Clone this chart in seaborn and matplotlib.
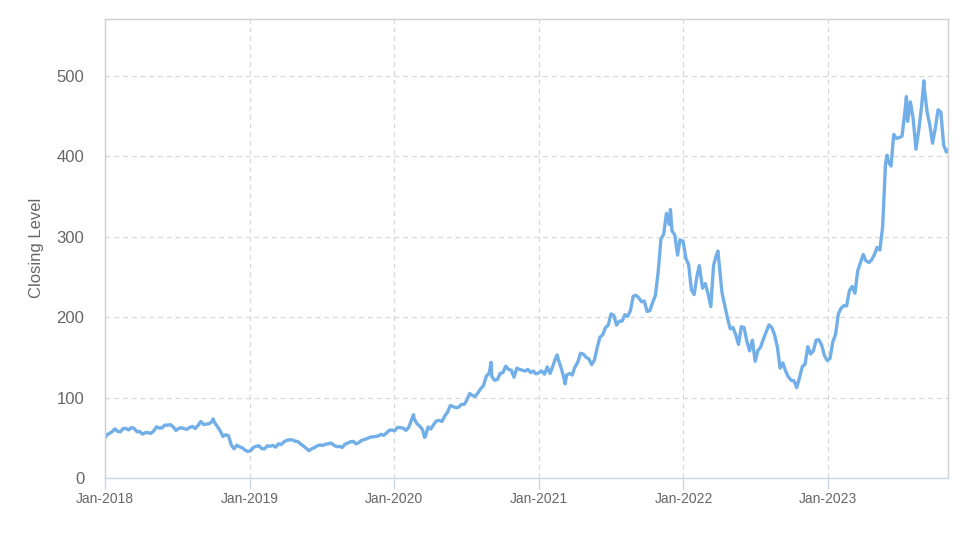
import matplotlib
matplotlib.use("Agg")
import matplotlib.pyplot as plt
import numpy as np
import pandas as pd
import seaborn as sns

# ---- data ----
dates_2018 = ["2018-01-02", "2018-01-05", "2018-01-12", "2018-01-19", "2018-01-26", "2018-02-02", "2018-02-09",
              "2018-02-16", "2018-02-23", "2018-03-02", "2018-03-09", "2018-03-16", "2018-03-23", "2018-03-29",
              "2018-04-06", "2018-04-13", "2018-04-20", "2018-04-27", "2018-05-04", "2018-05-11", "2018-05-18",
              "2018-05-25", "2018-06-01", "2018-06-08", "2018-06-15", "2018-06-22", "2018-06-29", "2018-07-06",
              "2018-07-13", "2018-07-20", "2018-07-27", "2018-08-03", "2018-08-10", "2018-08-17", "2018-08-24",
              "2018-08-31", "2018-09-07", "2018-09-14", "2018-09-21", "2018-09-28", "2018-10-01", "2018-10-05",
              "2018-10-12", "2018-10-19", "2018-10-26", "2018-11-02", "2018-11-09", "2018-11-16", "2018-11-23",
              "2018-11-30", "2018-12-07", "2018-12-14", "2018-12-21", "2018-12-28"]
close_2018 = [50.5, 53.4, 55.3, 57.6, 61.0, 58.0, 57.5,
              61.5, 61.5, 59.8, 62.8, 61.5, 57.4, 57.9,
              54.5, 56.5, 56.3, 55.5, 58.5, 63.6, 62.0,
              62.3, 65.8, 65.6, 66.3, 63.8, 59.2, 61.6,
              62.5, 61.3, 60.5, 63.0, 64.0, 61.5, 65.5,
              70.2, 66.5, 67.0, 67.5, 70.2, 73.5, 68.7,
              63.8, 58.5, 51.8, 53.8, 52.4, 40.8, 36.3,
              40.8, 38.8, 37.5, 34.5, 33.0]

dates_2019 = ["2019-01-04", "2019-01-11", "2019-01-18", "2019-01-25", "2019-02-01", "2019-02-08", "2019-02-15",
              "2019-02-22", "2019-03-01", "2019-03-08", "2019-03-15", "2019-03-22", "2019-03-29", "2019-04-05",
              "2019-04-12", "2019-04-19", "2019-04-26", "2019-05-03", "2019-05-10", "2019-05-17", "2019-05-24",
              "2019-05-31", "2019-06-07", "2019-06-14", "2019-06-21", "2019-06-28", "2019-07-05", "2019-07-12",
              "2019-07-19", "2019-07-26", "2019-08-02", "2019-08-09", "2019-08-16", "2019-08-23", "2019-08-30",
              "2019-09-06", "2019-09-13", "2019-09-20", "2019-09-27", "2019-10-04", "2019-10-11", "2019-10-18",
              "2019-10-25", "2019-11-01", "2019-11-08", "2019-11-15", "2019-11-22", "2019-11-29", "2019-12-06",
              "2019-12-13", "2019-12-20", "2019-12-27", "2019-12-31"]
close_2019 = [34.0, 38.0, 39.5, 40.0, 36.5, 36.3, 40.0,
              39.5, 40.5, 38.3, 42.5, 41.5, 44.9, 46.8,
              47.5, 47.5, 45.8, 45.3, 42.3, 39.8, 37.0,
              33.9, 36.3, 37.8, 40.0, 41.1, 40.5, 42.0,
              42.5, 43.5, 40.8, 39.0, 39.3, 38.0, 41.9,
              43.5, 45.0, 45.5, 42.5, 44.0, 46.8, 48.0,
              49.0, 50.6, 51.3, 51.5, 52.3, 54.3, 53.0,
              56.0, 59.3, 59.8, 58.8]

dates_2020 = ["2020-01-03", "2020-01-10", "2020-01-17", "2020-01-24", "2020-01-31", "2020-02-07", "2020-02-14",
              "2020-02-19", "2020-02-21", "2020-02-28", "2020-03-06", "2020-03-13", "2020-03-18", "2020-03-20",
              "2020-03-27", "2020-04-03", "2020-04-09", "2020-04-17", "2020-04-24", "2020-05-01", "2020-05-08",
              "2020-05-15", "2020-05-22", "2020-05-29", "2020-06-05", "2020-06-12", "2020-06-19", "2020-06-26",
              "2020-07-02", "2020-07-10", "2020-07-17", "2020-07-24", "2020-07-31", "2020-08-07", "2020-08-14",
              "2020-08-21", "2020-08-28", "2020-09-02", "2020-09-04", "2020-09-11", "2020-09-18", "2020-09-25",
              "2020-10-02", "2020-10-09", "2020-10-16", "2020-10-23", "2020-10-30", "2020-11-06", "2020-11-13",
              "2020-11-20", "2020-11-27", "2020-12-04", "2020-12-11", "2020-12-18", "2020-12-24", "2020-12-31"]
close_2020 = [59.0, 63.0, 62.5, 62.0, 59.2, 63.0, 72.0,
              78.6, 73.5, 67.5, 64.3, 60.0, 50.5, 51.5,
              63.5, 60.8, 65.8, 71.0, 71.5, 70.3, 77.0,
              81.8, 90.0, 88.8, 87.5, 88.0, 91.5, 91.5,
              96.0, 105.0, 102.5, 101.5, 106.0, 111.0, 115.0,
              126.5, 130.0, 143.7, 126.0, 121.5, 122.5, 130.0,
              131.0, 139.0, 135.0, 134.0, 125.3, 136.5, 135.0,
              134.0, 133.0, 135.0, 131.0, 133.0, 129.5, 130.6]

dates_2021 = ["2021-01-08", "2021-01-15", "2021-01-22", "2021-01-29", "2021-02-05", "2021-02-12", "2021-02-16",
              "2021-02-19", "2021-02-26", "2021-03-05", "2021-03-08", "2021-03-12", "2021-03-19", "2021-03-26",
              "2021-04-01", "2021-04-09", "2021-04-16", "2021-04-23", "2021-04-30", "2021-05-07", "2021-05-14",
              "2021-05-21", "2021-05-28", "2021-06-04", "2021-06-11", "2021-06-18", "2021-06-25", "2021-07-02",
              "2021-07-09", "2021-07-16", "2021-07-23", "2021-07-30", "2021-08-06", "2021-08-13", "2021-08-20",
              "2021-08-27", "2021-09-03", "2021-09-10", "2021-09-17", "2021-09-24", "2021-10-01", "2021-10-08",
              "2021-10-15", "2021-10-22", "2021-10-29", "2021-11-05", "2021-11-12", "2021-11-19", "2021-11-26",
              "2021-11-29", "2021-12-03", "2021-12-10", "2021-12-17", "2021-12-23", "2021-12-31"]
close_2021 = [133.0, 129.0, 138.0, 130.0, 139.0, 149.0, 153.0,
              147.0, 137.0, 124.0, 117.0, 128.0, 130.0, 128.0,
              137.0, 144.0, 155.0, 154.0, 150.0, 148.0, 141.0,
              146.5, 162.0, 175.0, 178.0, 187.0, 190.0, 204.0,
              202.0, 190.0, 195.0, 195.0, 203.0, 201.0, 208.0,
              226.0, 227.0, 224.0, 219.0, 220.0, 207.0, 208.0,
              218.0, 227.0, 255.7, 297.0, 303.0, 329.0, 315.0,
              333.8, 307.0, 302.0, 277.0, 296.0, 294.0]

dates_2022 = ["2022-01-07", "2022-01-14", "2022-01-21", "2022-01-28", "2022-02-04", "2022-02-10", "2022-02-18",
              "2022-02-25", "2022-03-04", "2022-03-11", "2022-03-18", "2022-03-25", "2022-03-29", "2022-04-01",
              "2022-04-08", "2022-04-14", "2022-04-22", "2022-04-29", "2022-05-06", "2022-05-13", "2022-05-20",
              "2022-05-27", "2022-06-03", "2022-06-10", "2022-06-17", "2022-06-24", "2022-07-01", "2022-07-08",
              "2022-07-15", "2022-07-22", "2022-07-29", "2022-08-05", "2022-08-12", "2022-08-19", "2022-08-26",
              "2022-09-02", "2022-09-09", "2022-09-16", "2022-09-23", "2022-09-30", "2022-10-07", "2022-10-14",
              "2022-10-21", "2022-10-28", "2022-11-04", "2022-11-11", "2022-11-18", "2022-11-25", "2022-12-02",
              "2022-12-09", "2022-12-16", "2022-12-23", "2022-12-30"]
close_2022 = [273.0, 265.0, 233.7, 228.0, 251.0, 264.0, 236.0,
              241.6, 229.0, 213.0, 264.5, 276.9, 282.0, 267.0,
              231.0, 217.0, 199.0, 185.5, 187.0, 178.0, 166.0,
              188.0, 187.0, 170.0, 158.0, 171.3, 145.0, 158.4,
              163.0, 173.2, 181.6, 190.3, 187.0, 178.0, 163.0,
              136.5, 143.0, 132.7, 125.6, 121.4, 120.8, 112.3,
              124.7, 138.3, 141.6, 163.3, 154.1, 158.1, 171.3,
              171.8, 165.0, 152.1, 146.1]

dates_2023 = ["2023-01-06", "2023-01-13", "2023-01-20", "2023-01-27", "2023-02-03", "2023-02-10", "2023-02-17",
              "2023-02-24", "2023-03-03", "2023-03-10", "2023-03-17", "2023-03-24", "2023-03-31", "2023-04-06",
              "2023-04-14", "2023-04-21", "2023-04-28", "2023-05-05", "2023-05-12", "2023-05-19", "2023-05-26",
              "2023-05-30", "2023-06-02", "2023-06-09", "2023-06-16", "2023-06-23", "2023-06-30", "2023-07-07",
              "2023-07-14", "2023-07-18", "2023-07-21", "2023-07-28", "2023-08-04", "2023-08-11", "2023-08-18",
              "2023-08-25", "2023-08-31", "2023-09-01", "2023-09-08", "2023-09-15", "2023-09-22", "2023-09-29",
              "2023-10-06", "2023-10-13", "2023-10-20", "2023-10-27", "2023-10-31"]
close_2023 = [148.6, 169.0, 178.4, 203.7, 211.0, 214.2, 213.9,
              232.9, 238.0, 229.6, 257.3, 267.8, 277.8, 270.4,
              267.8, 271.0, 277.5, 286.6, 283.4, 312.6, 389.5,
              401.1, 393.3, 387.7, 426.9, 422.1, 423.0, 425.0,
              454.7, 474.0, 443.1, 467.5, 446.8, 408.6, 432.0,
              460.2, 493.6, 485.1, 455.7, 439.0, 416.1, 435.0,
              457.6, 454.6, 413.9, 405.0, 407.8]

tick_dates = ["2018-01-01", "2019-01-01", "2020-01-01", "2021-01-01", "2022-01-01", "2023-01-01"]
tick_labels = ["Jan-2018", "Jan-2019", "Jan-2020", "Jan-2021", "Jan-2022", "Jan-2023"]
y_ticks = [0, 100, 200, 300, 400, 500]
y_label = "Closing Level"

# ---- build table ----
all_dates = dates_2018 + dates_2019 + dates_2020 + dates_2021 + dates_2022 + dates_2023
all_close = close_2018 + close_2019 + close_2020 + close_2021 + close_2022 + close_2023
df = pd.DataFrame({"date": pd.to_datetime(all_dates), "close": all_close})

sns.set_theme(style="white")
plt.rcParams["font.family"] = ["Liberation Sans", "DejaVu Sans"]

fig = plt.figure(figsize=(9.74, 5.47), dpi=100)
ax = fig.add_axes([0.1078, 0.1261, 0.8655, 0.8400])

sns.lineplot(data=df, x="date", y="close", ax=ax, color="#72afe8", linewidth=2.4)

ax.set_xlim(pd.Timestamp("2018-01-01"), pd.Timestamp("2023-10-31"))
ax.set_ylim(0, 571)

ax.set_xticks(pd.to_datetime(tick_dates))
ax.set_xticklabels(tick_labels)
ax.set_yticks(y_ticks)

ax.grid(True, which="major", axis="both", color="#d8d8d8", linestyle=(0, (4, 3)), linewidth=0.9)
ax.set_axisbelow(True)

for side in ["top", "left", "right"]:
    ax.spines[side].set_visible(True)
    ax.spines[side].set_color("#cfcfd6")
    ax.spines[side].set_linewidth(1.0)
ax.spines["bottom"].set_color("#ccd6eb")
ax.spines["bottom"].set_linewidth(1.0)

ax.tick_params(axis="x", which="major", length=8, width=1, color="#ccd6eb",
               labelsize=10, labelcolor="#666666", pad=2, bottom=True)
ax.tick_params(axis="y", which="major", length=0, labelsize=12, labelcolor="#666666", pad=15, left=False)

ax.set_xlabel("")
ax.set_ylabel(y_label, fontsize=12, color="#666666", labelpad=9)

fig.savefig("out.png", dpi=100)
